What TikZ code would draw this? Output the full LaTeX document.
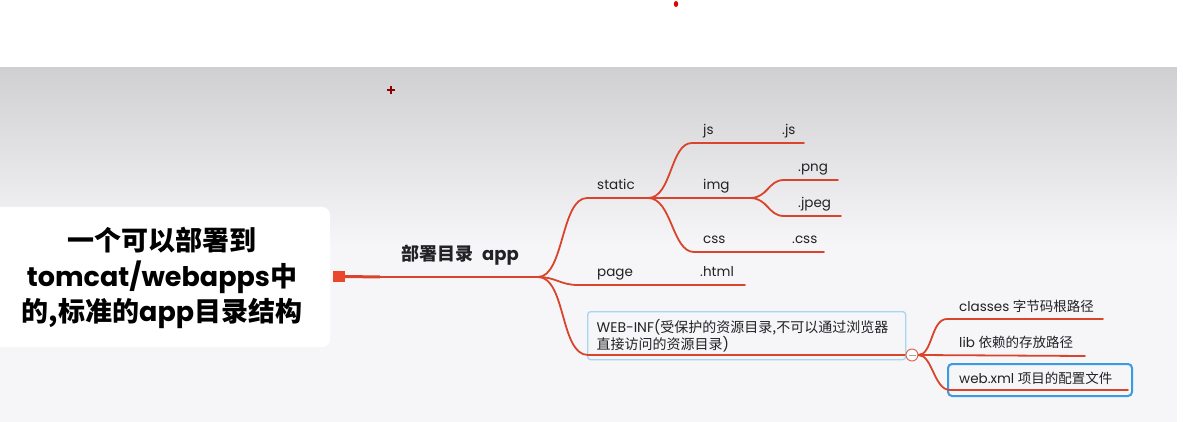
\documentclass[tikz,border=0pt]{standalone}
\usepackage{fontspec}
\setmainfont{Poppins}
\newfontfamily\cjk{Noto Sans CJK SC}
\usetikzlibrary{calc}
\definecolor{br}{HTML}{D8442C}
\definecolor{sqc}{HTML}{E8472E}
\definecolor{bgtop}{HTML}{D0D0D3}
\definecolor{bgbot}{HTML}{F6F6F8}
\definecolor{txt}{HTML}{222226}
\definecolor{lblue}{HTML}{A6D6F0}
\definecolor{dblue}{HTML}{3A9BE0}
\tikzset{
  branch/.style={draw=br, line width=1.8pt, line cap=round},
  lbl/.style={anchor=base west, inner sep=0pt, text=txt, font=\fontsize{13.5}{16}\selectfont},
}
\begin{document}
\begin{tikzpicture}[x=1pt,y=-1pt]
\useasboundingbox (0,0) rectangle (1183,422);
\fill[white] (0,0) rectangle (1183,68);
\shade[top color=bgtop, bottom color=bgbot] (0,68) rectangle (1177,245);
\fill[bgbot] (0,244) rectangle (1177,422);
\fill[white] (1177,68) rectangle (1183,422);
% decorations
\fill[red!90!black] (676,4) ellipse (2.2 and 3);
\draw[red!55!black, line width=1.3pt] (387,90) -- (395,90) (391,86) -- (391,94);
% root
\node[fill=white, rounded corners=8pt, minimum width=350pt, minimum height=140pt, inner sep=0pt] (rootbox) at (155,277) {};
\node[align=center, text=black, font=\bfseries\fontsize{27}{35.5}\selectfont] (root) at (162,278)
  {{\cjk 一个可以部署到}\\tomcat/webapps{\cjk 中}\\{\cjk 的,标准的}app{\cjk 目录结构}};
\node[fill=sqc, minimum width=12pt, minimum height=10.5pt, inner sep=0pt] (sq) at (339,276.5) {};
\coordinate (t1) at (380,277);
\coordinate (m0) at (538,277);
\draw[draw=br, line width=3pt] (sq.east) -- (t1);
\draw[branch] (t1) -- (m0);
\node[anchor=base west, inner sep=0pt, text=txt, font=\bfseries\fontsize{18}{20}\selectfont] (app) at (401,260) {{\cjk 部署目录}\hspace{9pt}app};
% WEB-INF box
\node[draw=lblue, line width=1.3pt, rounded corners=3pt, anchor=north west, minimum width=315pt, minimum height=48pt,
      text width=300pt, inner xsep=9pt, align=left, text=txt, font=\fontsize{14}{17.5}\selectfont] (webinf) at (587,311)
  {WEB-INF({\cjk 受保护的资源目录,不可以通过浏览器}\\{\cjk 直接访问的资源目录})};
% web.xml box
\node[draw=dblue, line width=2pt, rounded corners=4pt, anchor=north west, minimum width=184pt, minimum height=32pt, inner sep=0pt] (webxmlbox) at (947,363) {};
% level 1
\node[lbl] (static) at (597,189.5) {static};
\node[lbl] (page) at (597,276.5) {page};
\node[lbl] (html) at (700,276.5) {.html};
\coordinate (staticA) at (587,198);
\coordinate (s0) at (648,198);
\coordinate (pageA) at (578,285);
\coordinate (pageB) at (745,285);
\coordinate (webA) at (588,355);
\coordinate (webB) at (905,355);
\draw[branch] (m0) .. controls +(26,0) and +(-26,0) .. (staticA) -- (s0);
\draw[branch] (m0) .. controls +(18,0) and +(-18,0) .. (pageA) -- (pageB);
\draw[branch] (m0) .. controls +(28,0) and +(-28,0) .. (webA) -- (webB);
% static children
\node[lbl] (js) at (703,135) {js};
\node[lbl] (jsx) at (782,135) {.js};
\node[lbl] (img) at (703,189.5) {img};
\node[lbl] (css) at (703,243.5) {css};
\node[lbl] (cssx) at (792,243.5) {.css};
\node[lbl] (png) at (798,171.5) {.png};
\node[lbl] (jpeg) at (798,207.5) {.jpeg};
\coordinate (jsA) at (692,143);
\coordinate (jsB) at (804,143);
\coordinate (i0) at (750,198);
\coordinate (cssA) at (694,252);
\coordinate (cssB) at (824,252);
\draw[branch] (s0) .. controls +(24,0) and +(-22,0) .. (jsA) -- (jsB);
\draw[branch] (s0) -- (i0);
\draw[branch] (s0) .. controls +(24,0) and +(-22,0) .. (cssA) -- (cssB);
\coordinate (pngA) at (784,180);
\coordinate (pngB) at (838,180);
\coordinate (jpA) at (784,216);
\coordinate (jpB) at (841,216);
\draw[branch] (i0) .. controls +(18,0) and +(-16,0) .. (pngA) -- (pngB);
\draw[branch] (i0) .. controls +(18,0) and +(-16,0) .. (jpA) -- (jpB);
% WEB-INF children
\node[circle, draw=br!80, line width=1pt, fill=white, minimum size=12pt, inner sep=0pt] (ctl) at (912,355) {};
\draw[gray!70, line width=1pt] ($(ctl.center)+(-3.5,0)$) -- ($(ctl.center)+(3.5,0)$);
\node[lbl] (classes) at (959,311.5) {classes {\cjk 字节码根路径}};
\node[lbl] (lib) at (959,347.5) {lib {\cjk 依赖的存放路径}};
\node[lbl] (webxml) at (959,383) {web.xml {\cjk 项目的配置文件}};
\coordinate (clA) at (947,319);
\coordinate (clB) at (1103,319);
\coordinate (libB) at (1085,356);
\coordinate (wxA) at (950,390);
\coordinate (wxB) at (1128,390);
\draw[branch] (ctl.east) .. controls +(14,0) and +(-16,0) .. (clA) -- (clB);
\draw[branch] (ctl.east) -- (libB);
\draw[branch] (ctl.east) .. controls +(14,0) and +(-16,0) .. (wxA) -- (wxB);
\end{tikzpicture}
\end{document}
